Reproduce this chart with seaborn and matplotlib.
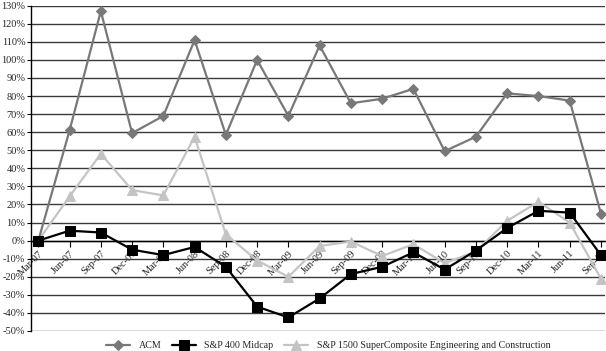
import matplotlib
matplotlib.use("Agg")
import matplotlib.pyplot as plt
import seaborn as sns
import numpy as np
import pandas as pd

dates = ["Mar-07", "Jun-07", "Sep-07", "Dec-07", "Mar-08", "Jun-08", "Sep-08", "Dec-08",
         "Mar-09", "Jun-09", "Sep-09", "Dec-09", "Mar-10", "Jun-10", "Sep-10", "Dec-10",
         "Mar-11", "Jun-11", "Sep-11"]
acm = [0, 61, 127, 59.5, 69, 111, 58.5, 100, 69, 108, 76, 78.5, 84, 49.5, 57.5, 81.5, 80, 77.5, 15]
midcap = [0, 5.5, 4.5, -5, -8, -3.5, -14.5, -36.5, -42.5, -32, -18.5, -14.5, -6.5, -16, -5.5, 7, 16.5, 15.5, -8]
sp1500 = [0, 24.5, 48, 28, 25, 57.5, 3.5, -11, -20, -3, -0.5, -8.5, -2, -12.5, -6, 11, 21.5, 10, -21]

series_names = ["ACM", "S&P 400 Midcap", "S&P 1500 SuperComposite Engineering and Construction"]

sns.set_theme(style="white")
plt.rcParams['font.family'] = ['Liberation Serif', 'DejaVu Serif']

fig = plt.figure(figsize=(6.06, 3.51), dpi=100)
ax = fig.add_axes([31/606, 1-331/351, (605-31)/606, (331-5.7)/351])

x = np.arange(len(dates))
df = pd.DataFrame({"x": x, "acm": acm, "mid": midcap, "sp": sp1500})

sns.lineplot(data=df, x="x", y="sp", ax=ax, color="#c4c4c4", linewidth=1.6,
             marker="^", markersize=7.5, markeredgecolor="#c4c4c4", label=series_names[2], zorder=3)
sns.lineplot(data=df, x="x", y="acm", ax=ax, color="#787878", linewidth=1.6,
             marker="D", markersize=5, markeredgecolor="#787878", label=series_names[0], zorder=4)
sns.lineplot(data=df, x="x", y="mid", ax=ax, color="black", linewidth=1.6,
             marker="s", markersize=7, markeredgecolor="black", label=series_names[1], zorder=5)

for s in ["top", "right"]:
    ax.spines[s].set_visible(False)
ax.spines["left"].set_color("black")
ax.spines["left"].set_linewidth(1.0)
ax.spines["bottom"].set_position(("data", 0))
ax.spines["bottom"].set_color("black")
ax.spines["bottom"].set_linewidth(1.0)

ax.set_ylim(-50, 130)
ax.set_yticks(np.arange(-50, 131, 10))
ax.yaxis.grid(True, color="#3a3a3a", linewidth=1.0)
ax.set_axisbelow(True)

ax.set_xlim(-0.234, 18.13)
ax.set_xticks(x)
ax.set_xticklabels(dates, rotation=45, ha="right", va="top", rotation_mode="anchor", fontsize=7.5)
ax.set_yticklabels([f"{v}%" for v in range(-50, 131, 10)], fontsize=7.5)
ax.set_xlabel("")
ax.set_ylabel("")

ax.tick_params(axis="x", direction="out", length=4, width=0.8, color="black", pad=2, bottom=True)
ax.tick_params(axis="y", direction="out", length=3, width=0.8, color="black", pad=1, left=True)

h, l = ax.get_legend_handles_labels()
order = [l.index(n) for n in series_names]
ax.get_legend().remove()
fig.legend([h[i] for i in order], [l[i] for i in order], loc="center",
           bbox_to_anchor=(328/606, 1-345.5/351), ncol=3, frameon=False,
           prop={"family": "Liberation Serif", "size": 7.2},
           handlelength=2.4, handletextpad=0.9, columnspacing=1.0,
           borderpad=0, borderaxespad=0)

fig.savefig("out.png", dpi=100)
